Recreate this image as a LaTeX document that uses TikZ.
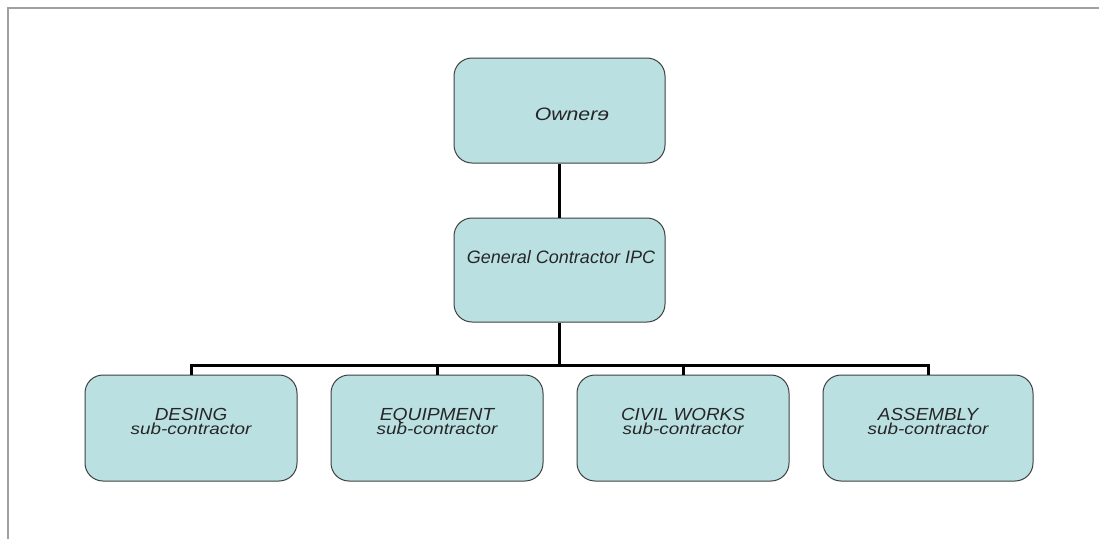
\documentclass[tikz,border=0pt]{standalone}
\usepackage{fontspec}
\usepackage{graphicx}
\setmainfont{Liberation Sans}
\definecolor{boxfill}{RGB}{187,224,226}
\definecolor{boxline}{RGB}{64,64,64}
\definecolor{framegray}{RGB}{160,160,160}
\newcommand{\wide}[2]{\scalebox{#1}[1]{#2}}
\begin{document}
\begin{tikzpicture}[x=1pt,y=-1pt,
  unit/.style={draw=boxline, line width=1pt, fill=boxfill, rounded corners=18pt,
               minimum width=211pt, minimum height=105pt, inner sep=0pt},
  link/.style={line width=3pt, draw=black},
  caption/.style={inner sep=0pt, anchor=base, text=black!85},
  bigtext/.style={caption, font=\itshape\fontsize{18}{18}\selectfont},
  toptext/.style={caption, font=\itshape\fontsize{17.5}{17.5}\selectfont},
  subtext/.style={caption, font=\itshape\fontsize{16}{16}\selectfont}]
\useasboundingbox (0,0) rectangle (1099,539);
\fill[white] (0,0) rectangle (1099,539);
% page frame
\draw[framegray, line width=2pt] (7.5,539) -- (7.5,7.5) -- (1099,7.5);

% boxes
\node[unit] (owner) at (559.5,110.5) {};
\node[unit, minimum height=104pt] (gc) at (559.5,270) {};
\node[unit, minimum width=212pt, minimum height=106pt] (des) at (191,428) {};
\node[unit, minimum width=212pt, minimum height=106pt] (equ) at (437,428) {};
\node[unit, minimum width=212pt, minimum height=106pt] (civ) at (683,428) {};
\node[unit, minimum width=210pt, minimum height=106pt] (asm) at (928,428) {};

% connectors
\draw[link] (owner.south) -- (gc.north);
\draw[link] (gc.south) -- ++(0,43) coordinate (bus);
\draw[link] (des.north) |- (bus) -| (asm.north);
\draw[link] (equ.north) -- (equ.north |- bus);
\draw[link] (civ.north) -- (civ.north |- bus);

% labels
\node[bigtext] (ownertxt) at (572,120) {\wide{1.18}{Ownerɘ}};
\node[bigtext] (gctxt) at (561,263) {\wide{1.0}{General Contractor IPC}};
\node[toptext] (destxt) at (191,420) {\wide{1.08}{DESING}};
\node[subtext] (dessub) at (191,434.5) {\wide{1.18}{sub-contractor}};
\node[toptext] (equtxt) at (437,420) {\wide{1.1}{EQUIPMENT}};
\node[subtext] (equsub) at (437,434.5) {\wide{1.18}{sub-contractor}};
\node[toptext] (civtxt) at (683,420) {\wide{1.08}{CIVIL WORKS}};
\node[subtext] (civsub) at (683,434.5) {\wide{1.18}{sub-contractor}};
\node[toptext] (asmtxt) at (928,420) {\wide{1.08}{ASSEMBLY}};
\node[subtext] (asmsub) at (928,434.5) {\wide{1.18}{sub-contractor}};
\end{tikzpicture}
\end{document}
